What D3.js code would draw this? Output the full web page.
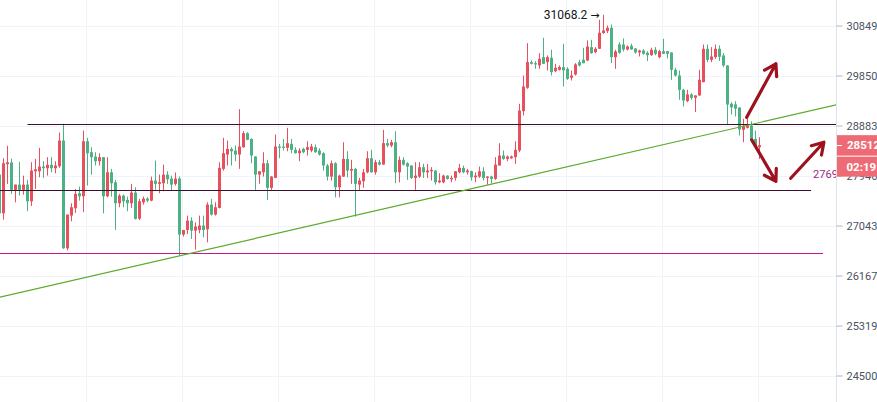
<!DOCTYPE html>
<html><head><meta charset="utf-8">
<script src="https://cdn.jsdelivr.net/npm/d3@7"></script>
<style>html,body{margin:0;padding:0;background:#fff;overflow:hidden}svg{display:block}</style>
</head><body>
<svg id="c" width="877" height="402"></svg>
<script>
// ---- data (hourly candles, index -1 .. 189) ----
const firstIndex = -1;
const open = [27964,27261,28157,28188,27685,27781,27685,27781,27477,28026,28026,28113,28082,28145,28082,28119,28599,26640,27220,27352,27623,27568,28586,28380,28300,28212,28287,27568,28007,27824,27442,27581,27502,27442,27636,27166,27459,27526,27490,27855,27794,27805,27964,27892,27794,27892,26882,26964,27130,26952,26964,27043,26975,27418,27238,27358,28070,28336,28443,28411,28336,28473,28737,28630,28300,27964,28007,28175,27722,27904,28486,28486,28462,28536,28424,28361,28443,28424,28411,28473,28411,28361,28132,27928,28175,27732,27928,28256,28039,28070,27781,27842,28007,28268,28007,28194,28150,28549,28505,28567,28007,28238,28175,28132,27904,27928,28101,28007,28026,28039,27824,27824,27946,27879,27904,28007,28089,28007,28026,27915,27928,28026,27904,27928,27886,28132,28318,28256,28268,28287,28411,29157,29610,30114,30094,30048,30213,30114,30200,29935,29962,30015,29982,29805,29870,30114,30160,30147,30413,30312,30380,30695,30735,30803,30213,30466,30466,30366,30440,30386,30306,30346,30300,30252,30360,30213,30332,30332,30306,29962,29850,29570,29350,29480,29415,29460,29720,30380,30160,30213,30380,30246,30048,29300,29287,29228,28801,28840,28883,28630,28473];
const high = [27980,28268,28500,28262,27781,28201,27946,27868,28194,28256,28462,28212,28287,28287,28212,28750,28916,27238,27442,27703,27745,28788,28650,28473,28380,28361,28287,28287,28070,27868,27612,27599,27563,27794,27732,27521,27563,27550,27928,28225,27964,28150,28026,27946,28002,27928,26964,27220,27190,27100,27220,27220,27459,27521,27459,28194,28650,28599,28473,28505,29195,28775,28756,28640,28305,28030,28380,28238,27935,28712,28536,28630,28839,28630,28473,28455,28462,28586,28536,28524,28455,28380,28163,28225,28194,27964,28567,28398,28238,28089,27904,28070,28398,28424,28238,28238,28801,28630,28612,28775,28300,28287,28194,28135,28194,28194,28163,28163,28101,28045,27989,27964,27950,27946,28030,28163,28132,28070,28039,28007,28113,28101,27935,27946,28287,28549,28411,28318,28318,28586,29299,29850,30493,30147,30134,30292,30601,30246,30360,30081,30048,30480,30015,29949,30094,30160,30400,30547,30560,30413,30966,31068.2,30849,30870,30360,30513,30587,30446,30480,30390,30360,30372,30332,30400,30413,30360,30581,30336,30310,30002,29949,29590,29570,29505,29465,29962,30466,30466,30413,30466,30446,30292,30052,29330,29350,29232,29010,29055,28965,28788,28661];
const low = [27250,27148,27794,27612,27459,27581,27599,27298,27394,27703,27915,27904,27946,28007,27989,28089,26630,26604,27118,27268,27490,27280,27763,27964,28132,28132,27261,27550,27563,26964,27370,27370,27298,27358,27150,27142,27418,27459,27477,27685,27623,27660,27794,27672,27763,26511,26846,26893,26805,26617,26905,26834,26745,27220,27220,27350,28039,28132,28132,28212,28070,28462,28605,28175,27685,27794,27928,27502,27685,27900,28268,28411,28398,28361,28355,28212,28361,28318,28380,28368,28318,28039,27855,27855,27550,27550,27920,27915,27794,27202,27685,27722,27989,28000,27964,28132,28145,28473,28473,27805,27824,28132,27868,27886,27685,27904,27904,27904,27855,27781,27805,27805,27873,27824,27855,27989,27989,27964,27855,27824,27904,27855,27781,27805,27868,28130,28238,28212,28256,28163,28380,29074,29590,30068,29982,29982,30075,29949,29850,29915,29949,29635,29765,29752,29850,30028,30090,30134,30279,30292,30375,30682,30695,30095,29982,30280,30326,30346,30360,30280,30226,30260,30134,30240,30252,30187,30275,30187,29766,29830,29377,29248,29330,29377,29140,29455,29715,30114,30114,30180,30134,30015,28902,29093,29055,28693,28567,28826,28567,28473,28255];
const close = [27261,28175,28194,27685,27781,27685,27781,27477,28039,28063,28113,28082,28145,28082,28132,28599,26640,27238,27370,27612,27568,28586,28361,28287,28212,28287,27568,28007,27805,27442,27581,27477,27442,27636,27160,27477,27526,27490,27855,27794,27824,27964,27879,27781,27892,26882,26964,27130,26952,27025,27043,26964,27418,27238,27370,28089,28361,28443,28398,28336,28486,28737,28612,28318,27964,28026,28175,27722,27928,28486,28462,28462,28549,28424,28361,28411,28380,28473,28486,28380,28336,28132,27928,28175,27732,27946,28256,28039,28070,27794,27855,28007,28268,28007,28194,28150,28549,28505,28567,28007,28238,28150,28113,27904,27946,28101,28007,28039,28051,27824,27855,27946,27886,27904,28026,28089,28007,28039,27915,27946,28026,27904,27928,27886,28150,28318,28256,28300,28300,28424,29170,29635,30114,30081,30068,30180,30081,30213,29915,30002,30015,29949,29784,29850,30068,30048,30094,30426,30292,30380,30702,30749,30803,30213,30326,30300,30366,30426,30366,30306,30346,30280,30252,30360,30280,30332,30280,30280,29962,29850,29570,29363,29480,29415,29460,29766,30380,30160,30226,30380,30220,30048,29285,29230,29205,28807,28877,28883,28612,28505,28512];

const priceTicks = [24500, 25319, 26167, 27043, 27946, 28883, 29850, 30849];
const lastPrice = 28512;
const countdown = "02:19:37";
const maxHigh = 31068.2;

// horizontal levels drawn on the chart
const resistance = {price: 28916, from: 6, to: 208.3};
const support = {price: 27690, from: -0.9, to: 201.9, label: "27690"};
const bottomLevel = {price: 26558, from: -0.9, to: 204.9};

// rising trend line (candle index, price)
const trendFrom = [-0.9, 25797];
const trendTo   = [208.3, 29280];

// hand-drawn arrows (candle index, price)
const arrowFrom = [[185.8, 29040], [187.05, 28612], [196.8, 27897]];
const arrowTo   = [[193.1, 30081], [193.1, 27842], [205.1, 28567]];

// ---- drawing ----
const W = 877, H = 402, plotRight = 836;
const svg = d3.select("#c");
const n = open.length;
const candles = d3.range(n).map(i => ({k: firstIndex + i, o: open[i], h: high[i], l: low[i], c: close[i]}));

const x = d3.scaleLinear().domain([-1, 189]).range([-0.5, 759.5]);
const y = d3.scaleLog().domain([24500, 30849]).range([375.5, 25.5]);

const UP = "#e8505e", DOWN = "#4cb184";

svg.append("defs").append("clipPath").attr("id","plot")
  .append("rect").attr("x",0).attr("y",0).attr("width",plotRight).attr("height",H);

const g = svg.append("g").attr("clip-path","url(#plot)");

// grid
g.append("g").selectAll("line").data(priceTicks).join("line")
  .attr("x1",0).attr("x2",plotRight)
  .attr("y1",d=>Math.round(y(d))+0.5).attr("y2",d=>Math.round(y(d))+0.5)
  .attr("stroke","#f0f3fa").attr("stroke-width",1);
g.append("g").selectAll("line").data(d3.range(20.7, 200, 24)).join("line")
  .attr("x1",d=>Math.round(x(d))+0.5).attr("x2",d=>Math.round(x(d))+0.5)
  .attr("y1",0).attr("y2",H)
  .attr("stroke","#f0f3fa").attr("stroke-width",1);

// candles
const cg = g.append("g");
cg.selectAll("line").data(candles).join("line")
  .attr("x1",d=>x(d.k)).attr("x2",d=>x(d.k))
  .attr("y1",d=>y(d.h)).attr("y2",d=>y(d.l))
  .attr("stroke",d=>d.c>=d.o?UP:DOWN).attr("stroke-width",1);
cg.selectAll("rect").data(candles).join("rect")
  .attr("x",d=>x(d.k)-1.5).attr("width",3)
  .attr("y",d=>y(Math.max(d.o,d.c)))
  .attr("height",d=>Math.max(1, Math.abs(y(d.o)-y(d.c))))
  .attr("fill",d=>d.c>=d.o?UP:DOWN);

// level lines
function level(lv, color){
  const yy = Math.round(y(lv.price)) + 0.5;
  g.append("line").attr("x1",x(lv.from)).attr("x2",x(lv.to)).attr("y1",yy).attr("y2",yy)
    .attr("stroke",color).attr("stroke-width",1);
}
level(resistance, "#3d0f2e");
level(support, "#3d0f2e");
level(bottomLevel, "#c4178a");
g.append("text").attr("x", x(support.to) + 2).attr("y", y(support.price) - 12)
  .attr("font-family","Roboto, sans-serif").attr("font-size",11).attr("fill","#9a2a80")
  .text(support.label);

// trend line
g.append("line")
  .attr("x1",x(trendFrom[0])).attr("y1",y(trendFrom[1]))
  .attr("x2",x(trendTo[0])).attr("y2",y(trendTo[1]))
  .attr("stroke","#5aaa2c").attr("stroke-width",1.2);

// arrows
const ag = g.append("g").attr("fill","none").attr("stroke","#9e111e")
  .attr("stroke-width",3.2).attr("stroke-linecap","round").attr("stroke-linejoin","round");
arrowFrom.forEach((f,i)=>{
  const t = arrowTo[i];
  const x1=x(f[0]), y1=y(f[1]), x2=x(t[0]), y2=y(t[1]);
  const ang = Math.atan2(y1-y2, x1-x2), L = 13, sp = 32*Math.PI/180;
  const w1=[x2+L*Math.cos(ang+sp), y2+L*Math.sin(ang+sp)];
  const w2=[x2+L*Math.cos(ang-sp), y2+L*Math.sin(ang-sp)];
  ag.append("path").attr("d",`M${x1},${y1}L${x2},${y2}M${w1[0]},${w1[1]}L${x2},${y2}L${w2[0]},${w2[1]}`);
});

// max label
const iMax = high.indexOf(maxHigh);
const ml = g.append("text").attr("x", x(firstIndex+iMax) - 4).attr("y", y(maxHigh) + 4.5)
  .attr("text-anchor","end").attr("font-family","Roboto, sans-serif").attr("font-size",12)
  .attr("fill","#131722");
ml.append("tspan").text(d3.format(".1f")(maxHigh) + " ");
ml.append("tspan").attr("font-family","DejaVu Sans, sans-serif").attr("font-size",11).text("\u2192");

// right axis
const axis = d3.axisRight(y).tickValues(priceTicks).tickFormat(d3.format("d")).tickSize(6).tickPadding(4);
const ax = svg.append("g").attr("transform",`translate(${plotRight+0.5},0)`).call(axis);
ax.select(".domain").attr("stroke","#e0e3eb").attr("d",`M0,0V${H}`);
ax.selectAll(".tick line").attr("stroke","#b2b5be");
ax.selectAll(".tick text").attr("fill","#4c525e").attr("font-family","Roboto, sans-serif").attr("font-size",11);

// last price marker
const yl = y(lastPrice);
const pl = svg.append("g");
pl.append("rect").attr("x",plotRight+1).attr("y",yl-10).attr("width",W-plotRight).attr("height",20.5).attr("fill","#ee6b75");
pl.append("rect").attr("x",plotRight+1).attr("y",yl+11.5).attr("width",W-plotRight).attr("height",20).attr("fill","#ee6b75");
pl.append("line").attr("x1",plotRight+1).attr("x2",plotRight+6).attr("y1",Math.round(yl)+0.5).attr("y2",Math.round(yl)+0.5).attr("stroke","#fff");
pl.append("text").attr("x",847).attr("y",yl+4).attr("font-family","Roboto, sans-serif").attr("font-size",11.5)
  .attr("font-weight","bold").attr("fill","#fff").text(d3.format(".1f")(lastPrice));
pl.append("text").attr("x",846.5).attr("y",yl+25.5).attr("font-family","Roboto, sans-serif").attr("font-size",11.5)
  .attr("font-weight","bold").attr("fill","#fff").text(countdown);
</script>
</body></html>
